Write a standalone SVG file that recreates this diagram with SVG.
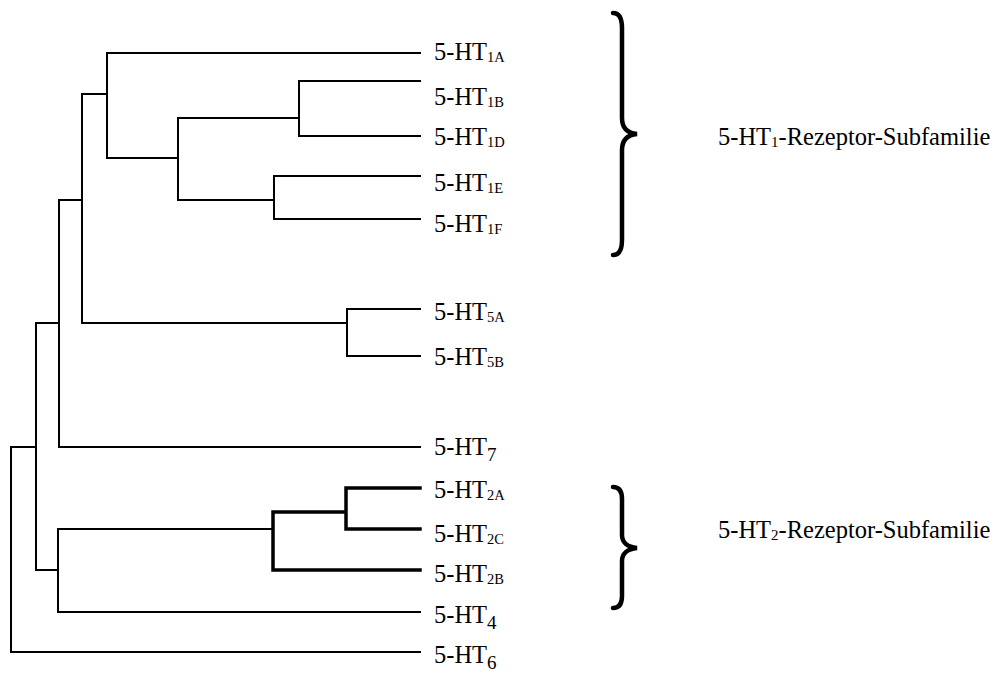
<svg xmlns="http://www.w3.org/2000/svg" width="1003" height="673" viewBox="0 0 1003 673">
<style>
.thin{fill:none;stroke:#000;stroke-width:2;stroke-linecap:square}
.thick{fill:none;stroke:#000;stroke-width:3.5;stroke-linecap:square}
.brace{fill:none;stroke:#000;stroke-width:4.5;stroke-linecap:round}
text{font-family:"Liberation Serif","Times New Roman",serif;font-size:24.5px;fill:#000}
.s{font-size:14.5px}
.s1{font-size:19px}
.s2{font-size:15px}
</style>
<rect width="1003" height="673" fill="#fff"/>
<g id="connectors">
<path class="thin" d="M107,53 H420 M107,53 V158 M82,94 H107 M107,158 H178 M178,118 V200 M178,118 H299 M299,81 V136 M299,81 H420 M299,136 H420 M178,200 H274 M274,176 V219 M274,176 H420 M274,219 H420 M82,94 V323 M59,200 H82 M82,323 H347 M347,309 V356 M347,309 H420 M347,356 H420 M59,200 V447 M59,447 H420 M36,323 H59 M36,323 V570 M11,447 H36 M36,570 H58 M58,529 V612 M58,529 H273 M58,612 H420 M11,447 V652 M11,652 H420"/>
<path class="thick" d="M273,512 V570 M273,512 H346 M346,488 V529 M346,488 H420 M346,529 H420 M273,570 H420"/>
</g>
<g id="n1A"><text x="434" y="60">5-HT<tspan class="s" dy="2">1A</tspan></text></g>
<g id="n1B"><text x="434" y="105">5-HT<tspan class="s" dy="2">1B</tspan></text></g>
<g id="n1D"><text x="434" y="145">5-HT<tspan class="s" dy="2">1D</tspan></text></g>
<g id="n1E"><text x="434" y="191">5-HT<tspan class="s" dy="2">1E</tspan></text></g>
<g id="n1F"><text x="434" y="232">5-HT<tspan class="s" dy="2">1F</tspan></text></g>
<g id="n5A"><text x="434" y="320">5-HT<tspan class="s" dy="2">5A</tspan></text></g>
<g id="n5B"><text x="434" y="365">5-HT<tspan class="s" dy="2">5B</tspan></text></g>
<g id="n7"><text x="434" y="455">5-HT<tspan class="s1" dy="6">7</tspan></text></g>
<g id="n2A"><text x="434" y="498">5-HT<tspan class="s" dy="2">2A</tspan></text></g>
<g id="n2C"><text x="434" y="542">5-HT<tspan class="s" dy="2">2C</tspan></text></g>
<g id="n2B"><text x="434" y="582">5-HT<tspan class="s" dy="2">2B</tspan></text></g>
<g id="n4"><text x="434" y="623">5-HT<tspan class="s1" dy="6">4</tspan></text></g>
<g id="n6"><text x="434" y="663">5-HT<tspan class="s1" dy="6">6</tspan></text></g>
<g id="brace1">
<path class="brace" d="M613,13 C619,13 622,18 622,28 L622,118 C622,128 627,133 637,134 C627,135 622,140 622,150 L622,240 C622,250 619,255 613,255"/>
<text x="718" y="145">5-HT<tspan class="s2" dy="2">1</tspan><tspan dy="-2">-Rezeptor-Subfamilie</tspan></text>
</g>
<g id="brace2">
<path class="brace" d="M613,487 C619,487 622,491 622,499 L622,535 C622,542 627,547 637,548 C627,549 622,554 622,561 L622,596 C622,604 619,608 613,608"/>
<text x="718" y="538">5-HT<tspan class="s2" dy="2">2</tspan><tspan dy="-2">-Rezeptor-Subfamilie</tspan></text>
</g>
</svg>
